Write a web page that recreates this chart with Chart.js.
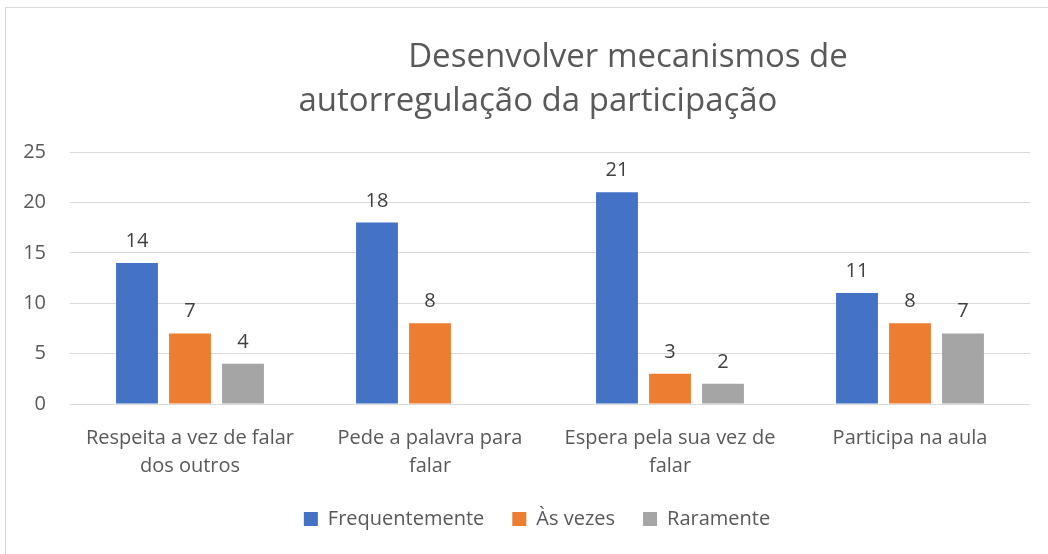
<!DOCTYPE html>
<html>
<head>
<meta charset="utf-8">
<script src="https://cdn.jsdelivr.net/npm/chart.js@4.4.0/dist/chart.umd.min.js"></script>
<style>
  html, body { margin: 0; padding: 0; background: #fff; overflow: hidden; }
  #wrap { position: relative; width: 1048px; height: 554px; }
  #frame { position: absolute; left: 5px; top: 7px; width: 1100px; height: 600px; border: 1px solid #d9d9d9; }
  canvas { position: absolute; left: 0; top: 0; }
</style>
</head>
<body>
<div id="wrap">
  <div id="frame"></div>
  <canvas id="myChart" width="1048" height="554"></canvas>
</div>
<script>
// chart data
const categories = [
  ['Respeita a vez de falar', 'dos outros'],
  ['Pede a palavra para', 'falar'],
  ['Espera pela sua vez de', 'falar'],
  'Participa na aula'
];
const frequentemente = [14, 18, 21, 11];
const asVezes = [7, 8, 3, 8];
const raramente = [4, null, 2, 7];
const yTicks = [0, 5, 10, 15, 20, 25];
const titleLines = ['Desenvolver mecanismos de', 'autorregulação da participação'];

const FONT = '"Open Sans", sans-serif';
const TEXT = '#595959';

// title lines like excel draws them
const titlePlugin = {
  id: 'titleLines',
  afterLayout(chart) {
    // legend sits a bit right of the canvas centre
    chart.legend.left += 22;
    chart.legend.right += 22;
  },
  afterDraw(chart) {
    const ctx = chart.ctx;
    ctx.save();
    ctx.fillStyle = TEXT;
    ctx.font = '33px ' + FONT;
    ctx.textAlign = 'center';
    ctx.textBaseline = 'alphabetic';
    ctx.fillText(titleLines[0], 628, 67);
    ctx.fillText(titleLines[1], 538, 111);
    ctx.restore();
  }
};

// value labels above the bars
const valueLabels = {
  id: 'valueLabels',
  afterDatasetsDraw(chart) {
    const ctx = chart.ctx;
    ctx.save();
    ctx.fillStyle = '#404040';
    ctx.font = '20px ' + FONT;
    ctx.textAlign = 'center';
    ctx.textBaseline = 'alphabetic';
    chart.data.datasets.forEach((ds, i) => {
      chart.getDatasetMeta(i).data.forEach((bar, j) => {
        if (ds.data[j] == null) return;
        ctx.fillText(ds.data[j], bar.x, bar.y - 16);
      });
    });
    ctx.restore();
  }
};

const chart = new Chart(document.getElementById('myChart').getContext('2d'), {
  type: 'bar',
  data: {
    labels: categories,
    datasets: [
      { label: 'Frequentemente', data: frequentemente, backgroundColor: '#4472C4', borderWidth: 0 },
      { label: 'Às vezes', data: asVezes, backgroundColor: '#ED7D31', borderWidth: 0 },
      { label: 'Raramente', data: raramente, backgroundColor: '#A5A5A5', borderWidth: 0 }
    ]
  },
  options: {
    responsive: false,
    animation: false,
    categoryPercentage: 0.6625,
    barPercentage: 0.79,
    layout: { padding: { left: 0, right: 18, top: 152, bottom: 15 } },
    plugins: {
      title: { display: false },
      tooltip: { enabled: false },
      legend: {
        position: 'bottom',
        labels: {
          boxWidth: 14,
          boxHeight: 14,
          padding: 28,
          color: TEXT,
          font: { family: FONT, size: 20 }
        }
      }
    },
    scales: {
      x: {
        grid: { display: false },
        border: { display: false },
        ticks: {
          color: TEXT,
          padding: 12,
          maxRotation: 0,
          autoSkip: false,
          font: { family: FONT, size: 20, lineHeight: 1.4 }
        },
        afterFit(scale) { scale.height = 77; }
      },
      y: {
        min: 0,
        max: 25,
        afterBuildTicks(scale) { scale.ticks = yTicks.map(v => ({ value: v })); },
        grid: { color: '#d9d9d9', lineWidth: 1, drawTicks: false },
        border: { display: false },
        ticks: {
          color: TEXT,
          padding: 24,
          font: { family: FONT, size: 20 }
        },
        afterFit(scale) { scale.width = 70; }
      }
    }
  },
  plugins: [titlePlugin, valueLabels]
});
</script>
</body>
</html>
